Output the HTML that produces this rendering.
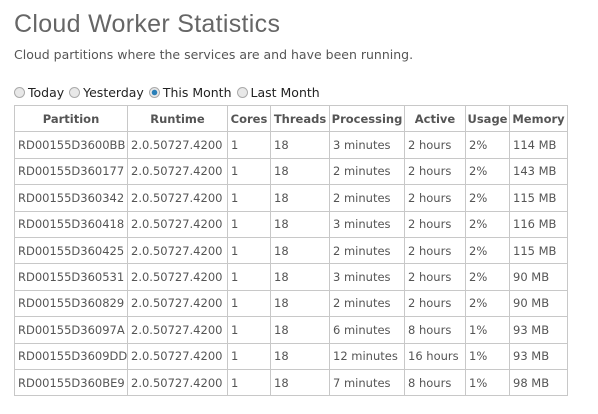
<!DOCTYPE html>
<html><head><meta charset="utf-8"><style>
body{margin:0;width:598px;height:414px;background:#fff;font-family:"DejaVu Sans",Verdana,sans-serif;color:#555;overflow:hidden;position:relative}
h1{position:absolute;left:14px;top:10px;margin:0;font:25px "Liberation Sans",Arial,sans-serif;color:#666;letter-spacing:0.3px}
.sub{position:absolute;left:14px;top:47px;font-size:12.5px;color:#555}
.radios{position:absolute;left:14px;top:85px;font-size:12.5px;color:#222;white-space:nowrap}
.radios span{display:inline-block;margin-right:1px}
.r{display:inline-block;width:11px;height:11px;border-radius:50%;border:1px solid #aaa;background:#e8e8e8;vertical-align:-1px;margin-right:3px;box-sizing:border-box}
.r.on{background:radial-gradient(circle,#2a7fb8 0 2.5px,#e8e8e8 3px)}
table{position:absolute;left:14px;top:105px;width:553px;border-collapse:collapse;table-layout:fixed;font-size:11.5px}
td,th{border:1px solid #c8c8c8;padding:0 3px;height:25.4px;white-space:nowrap;overflow:hidden;text-align:left;color:#555}
th{font-weight:bold;text-align:center;color:#555;padding:0 1px}
</style></head><body>
<h1>Cloud Worker Statistics</h1>
<div class="sub">Cloud partitions where the services are and have been running.</div>
<div class="radios">
<span><i class="r"></i>Today</span>
<span><i class="r"></i>Yesterday</span>
<span><i class="r on"></i>This Month</span>
<span><i class="r"></i>Last Month</span>
</div>
<table>
<colgroup><col style="width:113px"><col style="width:100px"><col style="width:43px"><col style="width:59px"><col style="width:75px"><col style="width:61px"><col style="width:44px"><col style="width:58px"></colgroup>
<thead><tr><th>Partition</th><th>Runtime</th><th>Cores</th><th>Threads</th><th>Processing</th><th>Active</th><th>Usage</th><th>Memory</th></tr></thead>
<tbody id="tb"></tbody></table>
<script>
const partitions=["RD00155D3600BB","RD00155D360177","RD00155D360342","RD00155D360418","RD00155D360425","RD00155D360531","RD00155D360829","RD00155D36097A","RD00155D3609DD","RD00155D360BE9"];
const processing=["3 minutes","2 minutes","2 minutes","3 minutes","2 minutes","3 minutes","2 minutes","6 minutes","12 minutes","7 minutes"];
const active=["2 hours","2 hours","2 hours","2 hours","2 hours","2 hours","2 hours","8 hours","16 hours","8 hours"];
const usage=["2%","2%","2%","2%","2%","2%","2%","1%","1%","1%"];
const memory=["114 MB","143 MB","115 MB","116 MB","115 MB","90 MB","90 MB","93 MB","93 MB","98 MB"];
const tb=document.getElementById('tb');
partitions.forEach((p,i)=>{
const tr=document.createElement('tr');


[p,"2.0.50727.4200","1","18",processing[i],active[i],usage[i],memory[i]].forEach(v=>{const td=document.createElement('td');td.textContent=v;tr.appendChild(td);});
tb.appendChild(tr);
});
</script>
</body></html>
